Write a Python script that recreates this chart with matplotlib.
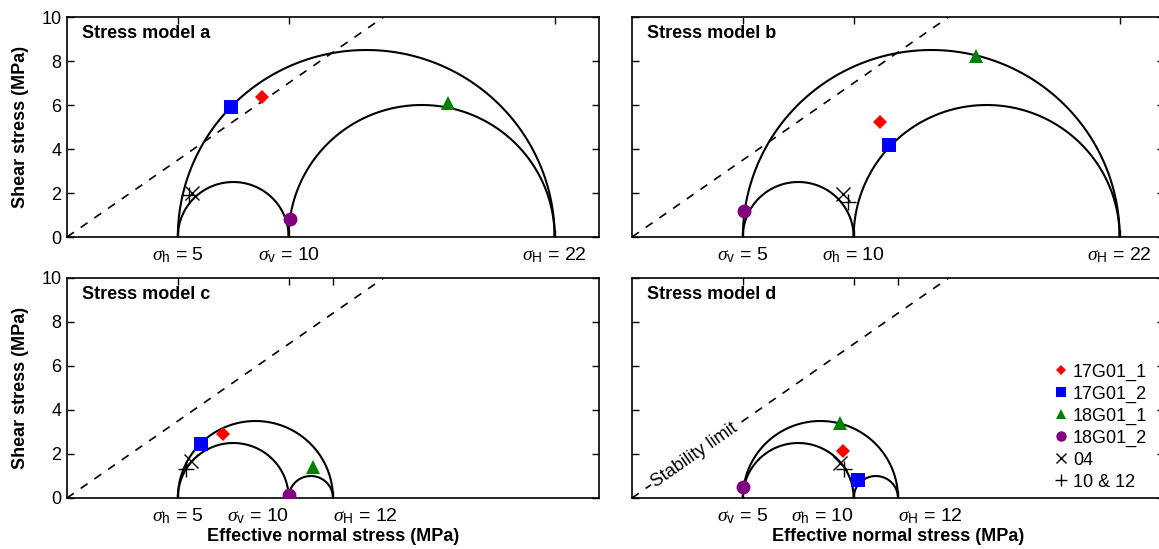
import numpy as np
import matplotlib
matplotlib.use("Agg")
import matplotlib.pyplot as plt

plt.rcParams["font.family"] = ["Liberation Sans", "DejaVu Sans"]
plt.rcParams["mathtext.fontset"] = "custom"
plt.rcParams["mathtext.rm"] = "Liberation Sans"
plt.rcParams["mathtext.it"] = "Liberation Serif:italic"
plt.rcParams["mathtext.bf"] = "Liberation Sans:bold"

# Principal effective stresses (MPa) for each stress model
panel_titles = ["Stress model a", "Stress model b", "Stress model c", "Stress model d"]
stress_names = [("h", "v", "H"), ("v", "h", "H"), ("h", "v", "H"), ("v", "h", "H")]
stress_values = [(5, 10, 22), (5, 10, 22), (5, 10, 12), (5, 10, 12)]

# Friction coefficient of the stability limit
friction = 0.7

# Sample points (normal stress, shear stress) per stress model a, b, c, d
series_labels = ["17G01_1", "17G01_2", "18G01_1", "18G01_2", "04", "10 & 12"]
pts_17G01_1 = [(8.8, 6.35), (11.2, 5.25), (7.05, 2.9), (9.5, 2.12)]
pts_17G01_2 = [(7.42, 5.92), (11.6, 4.2), (6.05, 2.45), (10.2, 0.83)]
pts_18G01_1 = [(17.2, 6.1), (15.5, 8.25), (11.1, 1.4), (9.4, 3.4)]
pts_18G01_2 = [(10.05, 0.83), (5.05, 1.2), (10.0, 0.12), (5.0, 0.48)]
pts_04 = [(5.65, 2.0), (9.5, 1.95), (5.6, 1.66), (9.37, 1.6)]
pts_10_12 = [(5.5, 1.9), (9.73, 1.6), (5.36, 1.32), (9.55, 1.32)]
series_points = [pts_17G01_1, pts_17G01_2, pts_18G01_1, pts_18G01_2, pts_04, pts_10_12]

series_style = [
    dict(marker="D", color="#ff0000", ms=7, mew=0),
    dict(marker="s", color="#0000ff", ms=10.5, mew=0),
    dict(marker="^", color="#008000", ms=10, mew=0),
    dict(marker="o", color="#800080", ms=10, mew=0),
    dict(marker="x", color="black", ms=10, mew=1.0),
    dict(marker="+", color="black", ms=11, mew=1.0),
]

W, H = 1159, 549
fig = plt.figure(figsize=(W / 100, H / 100), dpi=100)

ax_w = 532 / W
ax_h = 220 / H
lefts = [67 / W, 632 / W, 67 / W, 632 / W]
bottoms = [(H - 237) / H, (H - 237) / H, (H - 498) / H, (H - 498) / H]

fs = 13
theta = np.linspace(0, np.pi, 300)

for i in range(4):
    ax = fig.add_axes([lefts[i], bottoms[i], ax_w, ax_h])
    ax.set_xlim(0, 24)
    ax.set_ylim(0, 10)
    for sp in ax.spines.values():
        sp.set_linewidth(1.2)

    s = stress_values[i]
    # Mohr circles between each pair of principal stresses
    for a, b in [(s[0], s[1]), (s[1], s[2]), (s[0], s[2])]:
        c, r = (a + b) / 2, (b - a) / 2
        ax.plot(c + r * np.cos(theta), r * np.sin(theta), color="black", lw=1.5, zorder=2)

    # Stability limit
    xs = np.array([0, 24])
    ax.plot(xs, friction * xs, color="black", lw=1.2, ls=(0, (5, 5)), zorder=1)

    # Sample points
    for pts, st, lab in zip(series_points, series_style, series_labels):
        x, y = pts[i]
        ax.plot([x], [y], linestyle="none", marker=st["marker"], color=st["color"],
                ms=st["ms"], mew=st["mew"], label=lab, zorder=4)

    # Axis ticks and labels
    names = stress_names[i]
    ax.set_xticks(list(s))
    labels = [r"$\sigma_{\mathrm{%s}}$ = %d" % (n, v) for n, v in zip(names, s)]
    ax.set_xticklabels(labels, fontsize=14)
    if s[2] < 20:
        tl = ax.get_xticklabels()
        tl[1].set_horizontalalignment("right")
        tl[2].set_horizontalalignment("left")
    ax.set_yticks([0, 2, 4, 6, 8, 10])
    ax.tick_params(direction="in", top=True, right=True, length=5, width=1.0, pad=4)
    ax.tick_params(axis="y", labelsize=fs)
    ax.tick_params(axis="x", pad=6)
    if i % 2 == 0:
        ax.set_ylabel("Shear stress (MPa)", fontsize=fs, fontweight="bold")
        ax.yaxis.set_label_coords(-0.072, 0.5)
    else:
        ax.set_yticklabels([])
    if i >= 2:
        ax.set_xlabel("Effective normal stress (MPa)", fontsize=fs, fontweight="bold")
        ax.xaxis.set_label_coords(0.5, -0.135)

    ax.text(0.028, 0.923, panel_titles[i], transform=ax.transAxes, fontsize=fs,
            fontweight="bold", va="center", ha="left")

    if i == 3:
        ax.text(2.8, friction * 2.8, "Stability limit", fontsize=fs,
                rotation=np.degrees(np.arctan(friction)), transform_rotates_text=True,
                rotation_mode="anchor", ha="center", va="center",
                bbox=dict(facecolor="white", edgecolor="none", pad=1.5), zorder=3)
        ax.legend(loc="center left", bbox_to_anchor=(1054 / W, 1 - 427 / H),
                  bbox_transform=fig.transFigure, frameon=False, fontsize=fs,
                  handlelength=0.8, handletextpad=0.25, labelspacing=0.27,
                  borderpad=0, borderaxespad=0, markerscale=0.75)

fig.savefig("out.png", dpi=100)
